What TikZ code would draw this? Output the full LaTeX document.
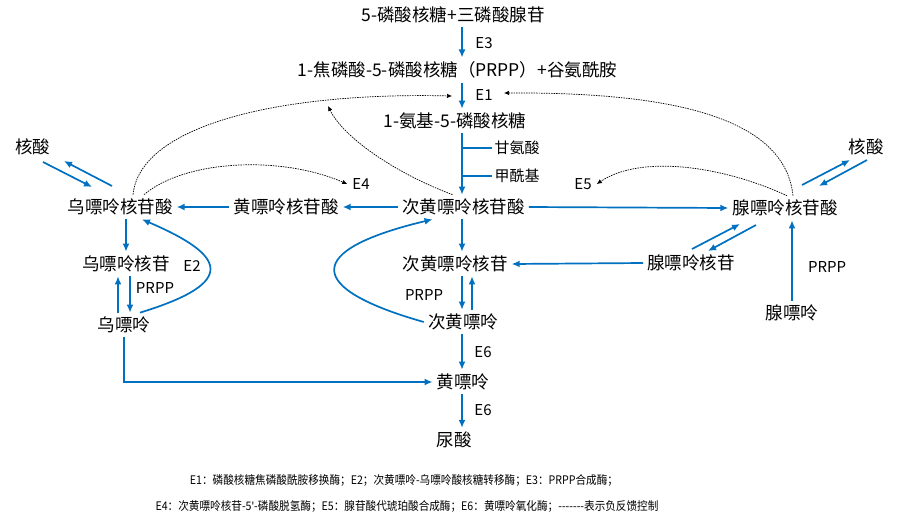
\documentclass[tikz,border=0pt]{standalone}
\usepackage{fontspec}
\setmainfont{Noto Sans CJK SC}
\newfontfamily\legendfont[FakeStretch=0.9]{Noto Sans CJK SC}
\newfontfamily\latinfont{Noto Sans}
\usetikzlibrary{arrows.meta}
\definecolor{flowblue}{HTML}{0070C0}

\begin{document}
\begin{tikzpicture}[x=10pt,y=-10pt,
    compound/.style={inner xsep=4pt,inner ysep=4pt,font=\fontsize{17.5}{21}\selectfont},
    enzyme/.style={inner sep=2pt,font=\fontsize{15}{18}\selectfont},
    legend/.style={inner sep=0pt,font=\legendfont\fontsize{11.8}{14}\selectfont},
    flow/.style={draw=flowblue,line width=1.7pt,-{Latex[length=8pt,width=7pt]}},
    branch/.style={draw=flowblue,line width=1.7pt},
    feedback/.style={draw=black,line width=0.7pt,dash pattern=on 1.5pt off 1pt,-{Latex[length=5pt,width=4.5pt]}}]
        \useasboundingbox (0,0) rectangle (91.8,53.1);
        % compounds
        \node[compound] (top) at (45.3,1.5) {5-磷酸核糖+三磷酸腺苷};
        \node[compound] (prpp) at (45.75,7.0) {1-焦磷酸-5-磷酸核糖（PRPP）+谷氨酰胺};
        \node[compound] (pra) at (45.5,12.1) {1-氨基-5-磷酸核糖};
        \node[compound] (imp) at (46.35,20.7) {次黄嘌呤核苷酸};
        \node[compound] (xmp) at (28.6,20.7) {黄嘌呤核苷酸};
        \node[compound] (gmp) at (12.0,20.7) {乌嘌呤核苷酸};
        \node[compound] (amp) at (78.5,20.8) {腺嘌呤核苷酸};
        \node[compound] (nal) at (3.3,14.7) {核酸};
        \node[compound] (nar) at (86.6,14.7) {核酸};
        \node[compound] (guo) at (12.6,26.4) {乌嘌呤核苷};
        \node[compound] (gua) at (12.4,32.5) {乌嘌呤};
        \node[compound] (ino) at (45.5,26.4) {次黄嘌呤核苷};
        \node[compound] (hyp) at (46.3,32.2) {次黄嘌呤};
        \node[compound] (xan) at (46.3,38.2) {黄嘌呤};
        \node[compound] (uric) at (45.4,44.0) {尿酸};
        \node[compound] (ado) at (69.1,26.3) {腺嘌呤核苷};
        \node[compound] (ade) at (79.2,31.3) {腺嘌呤};
        % enzymes and side labels
        \node[enzyme] (e3) at (48.4,4.3) {E3};
        \node[enzyme] (e1) at (48.4,9.5) {E1};
        \node[enzyme] (gly) at (51.7,14.8) {甘氨酸};
        \node[enzyme] (fmt) at (51.7,17.6) {甲酰基};
        \node[enzyme] (e4) at (36.1,18.4) {E4};
        \node[enzyme] (e5) at (58.3,18.4) {E5};
        \node[enzyme] (e2) at (19.2,26.6) {E2};
        \node[enzyme] (pg) at (15.5,28.8) {PRPP};
        \node[enzyme] (ph) at (42.4,29.5) {PRPP};
        \node[enzyme] (pa) at (82.7,26.7) {PRPP};
        \node[enzyme] (e6a) at (48.3,35.2) {E6};
        \node[enzyme] (e6b) at (48.3,41.0) {E6};
        % legend
        \node[legend] (leg1) at (40.4,48.0) {E1：磷酸核糖焦磷酸酰胺移换酶；E2；次黄嘌呤-乌嘌呤酸核糖转移酶；E3：PRPP合成酶；};
        \node[legend] (leg2) at (40.7,50.6) {E4：次黄嘌呤核苷-5{\latinfont '}-磷酸脱氢酶；E5：腺苷酸代琥珀酸合成酶；E6：黄嘌呤氧化酶；-{}-{}-{}-{}-{}-{}-表示负反馈控制};
        \coordinate (col) at (46.2,0);
        \coordinate (fbA) at (45.2,9.6);
        \coordinate (fbC) at (32.8,10.6);
        \coordinate (fbD) at (50.4,9.3);
        % main column
        \draw[flow] (top.south -| col) -- (prpp.north -| col);
        \draw[flow] (prpp.south -| col) -- (pra.north -| col);
        \draw[flow] (pra.south -| col) -- (imp.north -| col);
        \draw[branch] (col |- gly) -- (gly.west);
        \draw[branch] (col |- fmt) -- (fmt.west);
        \draw[flow] (imp.west) -- (xmp.east);
        \draw[flow] (xmp.west) -- (gmp.east);
        \draw[flow] (imp.east) -- (amp.west);
        \draw[flow] (imp.south -| col) -- (ino.north -| col);
        \draw[flow] (ado.west) -- (ino.east);
        \draw[flow] (ino.south -| col) -- (hyp.north -| col);
        \draw[flow] ([xshift=10pt]col |- hyp.north) -- ([xshift=10pt]col |- ino.south);
        \draw[flow] (hyp.south -| col) -- (xan.north -| col);
        \draw[flow] (xan.south -| col) -- (uric.north -| col);
        \draw[flow] (hyp.west) .. controls (30.4,28.8) and (30.4,25) .. ([xshift=-31pt]imp.south);
        % guanine side
        \draw[flow] ([shift={(1,1.5)}]nal.center) -- ([shift={(-2.8,-2)}]gmp.center);
        \draw[flow] ([shift={(-0.8,-2.1)}]gmp.center) -- ([shift={(3.1,1.4)}]nal.center);
        \draw[flow] (gmp.south -| guo.north) -- (guo.north);
        \draw[flow] ([xshift=6pt]gua.north |- guo.south) -- ([xshift=6pt]gua.north);
        \draw[flow] ([xshift=-6pt]gua.north) -- ([xshift=-6pt]gua.north |- guo.south);
        \draw[flow] ([xshift=16pt]gua.north) .. controls (24,28.2) and (22.5,25.5) .. ([xshift=22pt]gmp.south);
        \draw[flow] (gua.south) |- (xan.west);
        % adenine side
        \draw[flow] ([shift={(1.7,-2.3)}]amp.center) -- ([shift={(-1.6,1.3)}]nar.center);
        \draw[flow] ([shift={(0.1,1.3)}]nar.center) -- ([shift={(3.4,-2.2)}]amp.center);
        \draw[flow] ([shift={(0.1,-1.4)}]ado.center) -- ([shift={(-4.5,1.6)}]amp.center);
        \draw[flow] ([shift={(-2.9,1.7)}]amp.center) -- ([shift={(1.7,-1.2)}]ado.center);
        \draw[flow] (ade.north) -- (ade.north |- amp.south);
        % feedback
        \draw[feedback] ([xshift=13pt]gmp.north) .. controls (14,12.5) and (28,9.2) .. (fbA);
        \draw[feedback] ([xshift=24pt]gmp.north) .. controls (18.5,16) and (28,15.5) .. ([xshift=-3pt]e4.west);
        \draw[feedback] ([xshift=-11pt]imp.north) .. controls (40,17.5) and (34.5,14) .. (fbC);
        \draw[feedback] ([xshift=8pt]amp.north) .. controls (78.5,12) and (68,9.2) .. (fbD);
        \draw[feedback] ([xshift=2pt]amp.north) .. controls (72,16.5) and (64,15.5) .. ([xshift=3pt]e5.east);
    \end{tikzpicture}
\end{document}
